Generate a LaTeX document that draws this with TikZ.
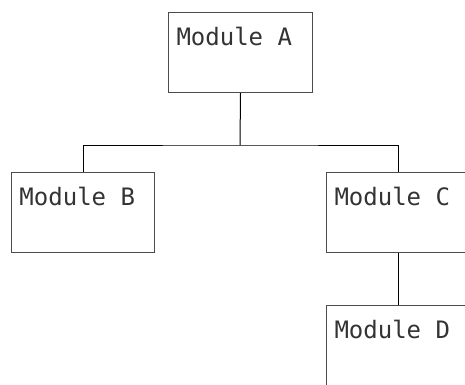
\documentclass[tikz,border=0pt]{standalone}
\usepackage{fontspec}
\newfontfamily\modfont{DejaVu Sans Mono}
\newcommand\modline[2][128pt]{\makebox[#1][l]{#2}}
\begin{document}
\begin{tikzpicture}[x=1pt,y=1pt,
  modbox/.style={draw=black!70, line width=1pt, rectangle, anchor=north west,
    inner xsep=8pt, inner ysep=0pt,
    text height=33pt, text depth=47pt, text=black!80,
    font=\modfont\fontsize{24}{28}\selectfont},
  conn/.style={draw=black, line width=1pt}]
\useasboundingbox (0,0) rectangle (465,-384);
\clip (0,0) rectangle (465,-384);
\node[modbox] (A) at (168,-12) {\modline{Module A}};
\node[modbox] (B) at (11,-172) {\modline[127pt]{Module B}};
\node[modbox] (C) at (326,-172) {\modline{Module C}};
\node[modbox] (D) at (326,-305) {\modline{Module D}};
\coordinate (bus) at (240,-145);
\draw[conn] (A.south) -- (bus);
\draw[conn] (B.north) |- (bus) -| (C.north);
\draw[conn] (C.south) -- (D.north);
\end{tikzpicture}
\end{document}
